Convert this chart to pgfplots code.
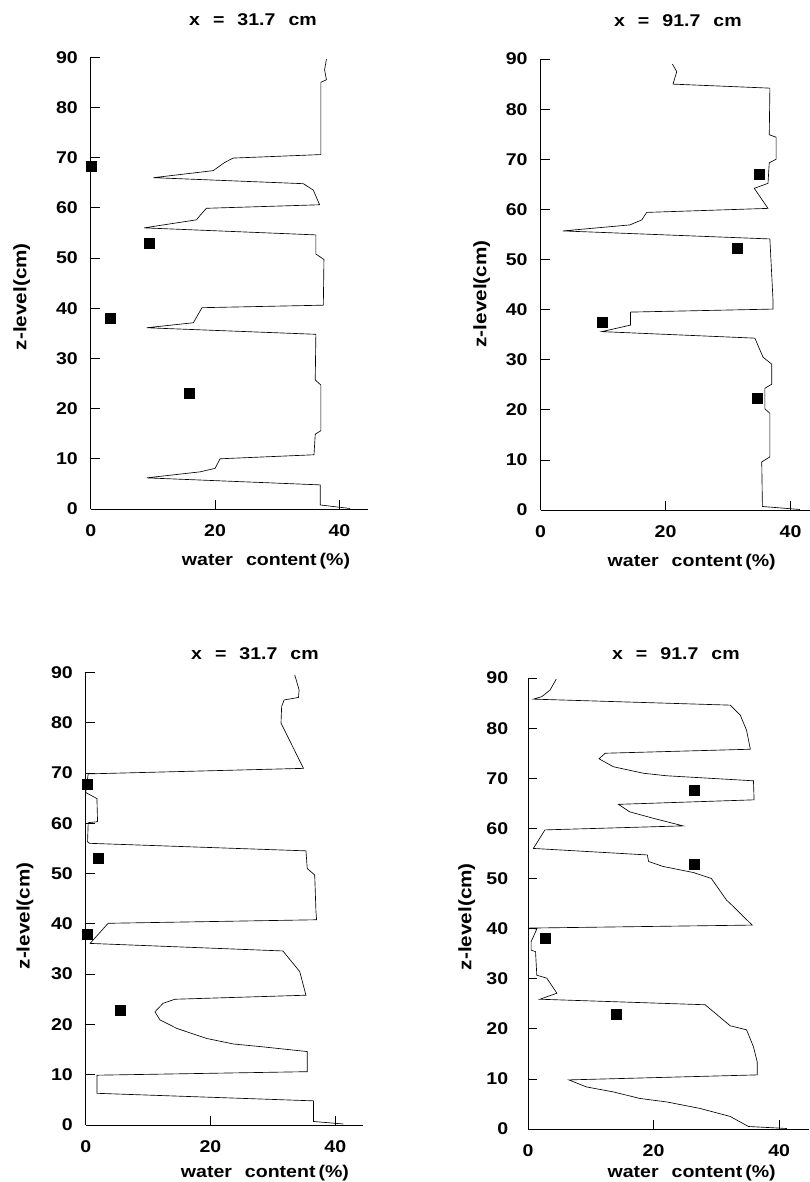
\documentclass[border=0pt]{standalone}
\usepackage{fontspec}
\setmainfont{Liberation Sans}[FakeStretch=1.15]
\usepackage{pgfplots}
\pgfplotsset{compat=1.18}
\newcommand\tfont{\fontsize{17}{20}\selectfont\bfseries}
\newcommand\lfont{\fontsize{17}{20}\selectfont\bfseries}
\newcommand\ttl[1]{x\hspace{13pt}=\hspace{13pt}#1\hspace{13pt}cm}
\pgfplotsset{
  panel/.style={
    axis lines=left,
    axis line style={-, line width=0.8pt, black},
    xmin=0, ymin=0, ymax=90, enlargelimits=false,
    xtick={0,20,40}, ytick={0,10,...,90},
    tick align=inside, major tick length=9pt,
    tick style={line width=0.7pt, black},
    /pgf/number format/assume math mode=true,
    tick label style={font=\tfont},
    yticklabel style={xshift=-9.4pt},
    xticklabel style={yshift=-12.5pt},
    clip=false,
    title style={font=\tfont, anchor=center},
    xlabel style={font=\lfont, anchor=center},
    ylabel style={font=\fontsize{18}{21}\selectfont\bfseries, anchor=center},
    xlabel={water\hspace{13pt}content\hspace{3pt}(\%)},
    ylabel={z-level(cm)},
  },
  prof/.style={black, line width=0.65pt, no marks},
  pts/.style={only marks, mark=square*, mark size=5pt, black},
}
\begin{document}
\begin{tikzpicture}
\useasboundingbox (0,0) rectangle (809pt,1182pt);

% ---------- top left ----------
\begin{axis}[panel, at={(90.7pt,673pt)}, anchor=south west,
  x=6.22pt, y=5.02pt, xmax=44.6,
  title={\ttl{31.7}}, title style={at={(axis description cs:0.585,1.07)}},
  xlabel style={at={(axis description cs:0.632,-0.115)}},
  ylabel style={at={(axis description cs:-0.249,0.47)}}]
\addplot[prof] coordinates {
(37.9,89.6) (37.6,87.5) (37.9,85.5) (37.0,85.0) (37.0,70.6) (22.9,69.9)
(21.5,69.0) (19.7,67.4) (10.1,66.0) (34.2,64.8) (35.8,63.5) (36.8,60.6)
(18.6,59.9) (17.6,58.5) (17.0,57.6) (8.6,56.0) (36.2,54.6) (36.2,50.8)
(37.5,49.7) (37.4,40.6) (17.9,40.1) (16.5,37.1) (9.0,36.1) (36.2,34.8)
(36.1,25.7) (37.0,24.7) (37.0,15.6) (36.1,14.9) (35.9,10.8) (20.8,10.0)
(20.0,8.1) (17.6,7.4) (9.0,6.2) (36.9,4.8) (36.9,0.8) (41.7,0.1)};
\addplot[pts] coordinates {(0,68.2) (9.4,53.0) (3.1,38.1) (15.9,23.0)};
\end{axis}

% ---------- top right ----------
\begin{axis}[panel, at={(540.5pt,672pt)}, anchor=south west,
  x=6.25pt, y=5.01pt, xmax=43.2,
  title={\ttl{91.7}}, title style={at={(axis description cs:0.509,1.071)}},
  xlabel style={at={(axis description cs:0.56,-0.115)}},
  ylabel style={at={(axis description cs:-0.218,0.479)}}]
\addplot[prof] coordinates {
(21.1,89.0) (21.8,87.5) (21.2,85.0) (36.7,84.2) (36.6,74.9) (37.7,74.4)
(37.7,70.0) (36.6,69.3) (36.4,65.2) (34.2,64.2) (36.4,60.2) (17.0,59.4)
(16.2,57.9) (14.3,56.9) (3.6,55.7) (36.7,54.1) (37.2,41.9) (37.2,40.1)
(14.4,39.5) (14.4,36.9) (9.8,35.6) (34.3,34.3) (35.6,30.5) (37.0,29.1)
(37.0,25.1) (35.9,24.3) (35.9,20.2) (36.7,19.3) (36.7,10.6) (35.4,9.6)
(35.5,0.7) (41.5,0.1)};
\addplot[pts] coordinates {(35.0,67.1) (31.4,52.2) (9.9,37.5) (34.7,22.3)};
\end{axis}

% ---------- bottom left ----------
\begin{axis}[panel, at={(85.7pt,57pt)}, anchor=south west,
  x=6.24pt, y=5.03pt, xmax=44.4,
  title={\ttl{31.7}}, title style={at={(axis description cs:0.611,1.028)}},
  xlabel style={at={(axis description cs:0.647,-0.107)}},
  ylabel style={at={(axis description cs:-0.219,0.462)}}]
\addplot[prof] coordinates {
(33.5,89.5) (34.2,86.5) (34.1,85.0) (31.8,84.5) (31.4,83.2) (31.3,79.9)
(34.9,70.9) (0.4,69.8) (0.0,66.1) (1.8,64.9) (1.9,60.3) (0.4,60.1)
(0.3,56.3) (0.6,56.0) (35.3,54.5) (35.5,51.0) (36.7,49.7) (36.9,42.4)
(37.0,40.8) (3.6,40.1) (0.7,36.1) (31.6,34.6) (34.3,30.5) (35.3,25.8)
(14.3,25.0) (12.4,24.2) (11.1,22.5) (11.9,20.9) (14.6,19.2) (19.4,17.2)
(23.7,16.1) (27.9,15.6) (35.5,14.6) (35.5,10.6) (1.8,9.9) (1.8,6.3)
(36.5,4.8) (36.5,0.7) (41.3,0.2)};
\addplot[pts] coordinates {(0.3,67.8) (2.0,53.0) (0.3,37.9) (5.6,22.9)};
\end{axis}

% ---------- bottom right ----------
\begin{axis}[panel, at={(528pt,53pt)}, anchor=south west,
  x=6.28pt, y=5.01pt, xmax=44.7,
  yticklabel style={xshift=-6.9pt},
  title={\ttl{91.7}}, title style={at={(axis description cs:0.527,1.041)}},
  xlabel style={at={(axis description cs:0.583,-0.097)}},
  ylabel style={at={(axis description cs:-0.218,0.471)}}]
\addplot[prof] coordinates {
(4.5,89.8) (3.5,87.6) (2.2,86.3) (0.85,85.8) (32.2,84.6) (33.8,82.6)
(34.8,79.6) (35.4,75.8) (12.3,75.0) (11.3,73.9) (13.6,72.3) (18.4,71.0)
(22.1,70.5) (35.9,69.5) (36.0,65.7) (14.4,64.8) (16.2,63.3) (20.0,62.0)
(24.7,60.5) (2.7,59.7) (0.85,56.0) (19.0,54.7) (19.2,53.4) (21.5,52.4)
(26.3,51.2) (29.2,50.0) (31.6,45.7) (32.7,44.4) (34.3,42.4) (35.7,40.7)
(0.1,40.1) (1.4,39.9) (0.5,37.4) (0.5,35.7) (1.2,35.4) (1.4,30.7)
(3.0,30.1) (4.6,27.1) (1.9,25.9) (28.2,24.8) (32.2,20.6) (34.8,19.8)
(35.9,16.4) (36.5,13.4) (36.5,10.8) (6.5,9.8) (9.3,8.4) (13.6,7.4)
(17.8,6.1) (22.1,5.4) (27.4,4.1) (32.2,2.5) (35.1,0.5) (41.2,0.1)};
\addplot[pts] coordinates {(26.4,67.7) (26.4,52.9) (2.8,38.1) (14.0,23.0)};
\end{axis}
\end{tikzpicture}
\end{document}
